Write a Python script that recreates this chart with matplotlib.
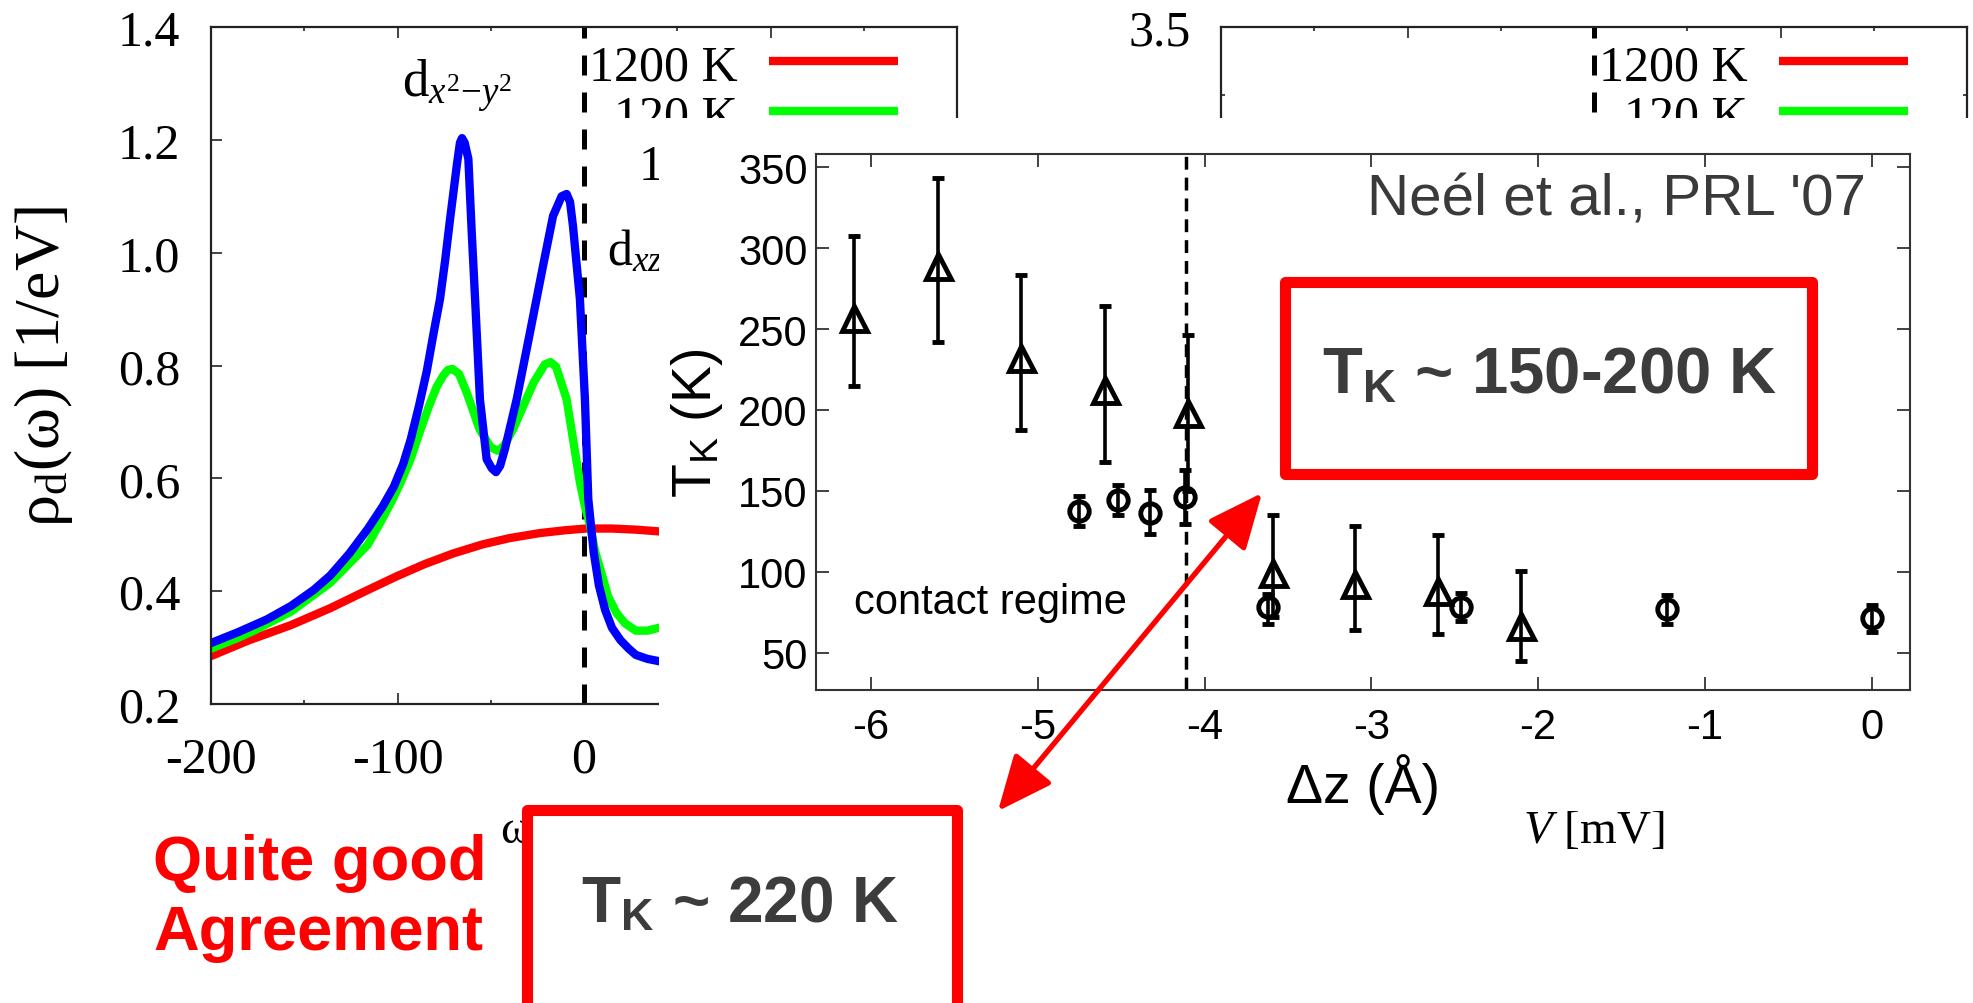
import matplotlib.pyplot as plt
from matplotlib.patches import Rectangle, FancyArrowPatch
from matplotlib.transforms import Affine2D

W, H = 1973, 1004
SERIF = "Liberation Serif"
SANS = "Liberation Sans"

plt.rcParams["axes.unicode_minus"] = False
plt.rcParams["mathtext.fontset"] = "custom"
plt.rcParams["mathtext.rm"] = SERIF
plt.rcParams["mathtext.it"] = SERIF + ":italic"
plt.rcParams["mathtext.sf"] = SANS
plt.rcParams["mathtext.bf"] = SANS + ":bold"

# ---- left panel: d-orbital spectral function ----
omega_blue = [-200, -185, -170, -157, -145, -136, -126, -116, -108, -102, -97,
              -93, -88.5, -84.3, -80.5, -77.2, -74.5, -71.8, -68, -66.5, -65.4,
              -64, -62, -60.2, -58.4, -55.8, -52.2, -49.5, -47.2, -45, -42.4,
              -36.1, -29, -22, -16.6, -12, -9.3, -7.5, -5.9, -2.2, 0.5, 2.3, 5.2,
              8, 11.3, 15, 19.6, 24, 27.8, 34, 40]
rho_blue = [0.308, 0.328, 0.350, 0.374, 0.402, 0.428, 0.466, 0.51, 0.55, 0.585,
            0.625, 0.668, 0.728, 0.79, 0.86, 0.918, 0.985, 1.06, 1.16, 1.195,
            1.203, 1.195, 1.166, 1.036, 0.918, 0.74, 0.634, 0.618, 0.611, 0.622,
            0.652, 0.74, 0.858, 0.976, 1.065, 1.1, 1.104, 1.09, 1.047, 0.918,
            0.74, 0.563, 0.469, 0.41, 0.367, 0.335, 0.313, 0.298, 0.287, 0.28,
            0.276]

omega_green = [-200, -185, -177, -157, -136, -116, -109, -103, -98, -93, -88,
               -83, -79, -75.5, -73, -70.6, -67, -63, -56, -50, -46.3, -43, -38,
               -27, -21, -18, -15, -9.3, -2.2, 0.5, 3.2, 6, 9.1, 13, 17.5, 22,
               27.8, 34, 40]
rho_green = [0.298, 0.318, 0.330, 0.364, 0.415, 0.482, 0.523, 0.56, 0.595, 0.634,
             0.683, 0.729, 0.762, 0.782, 0.792, 0.794, 0.785, 0.753, 0.687,
             0.655, 0.649, 0.657, 0.687, 0.77, 0.802, 0.806, 0.798, 0.74, 0.593,
             0.55, 0.517, 0.47, 0.435, 0.39, 0.361, 0.343, 0.330, 0.330, 0.335]

omega_red = [-200, -179.6, -157, -136, -116, -100, -85.4, -70, -54.3, -40, -23.6,
             -10, 1, 15, 28, 40]
rho_red = [0.285, 0.313, 0.340, 0.370, 0.402, 0.427, 0.448, 0.467, 0.483, 0.494,
           0.503, 0.508, 0.511, 0.511, 0.509, 0.506]

legend_labels = ["1200 K", "120 K", "12 K"]
legend_colors = ["#ff0000", "#00ff00", "#0000ff"]

# ---- Neel et al. PRL '07: T_K vs tip displacement ----
dz_tri = [-6.10, -5.60, -5.10, -4.60, -4.10, -3.59, -3.10, -2.60, -2.10]
tk_tri = [256.6, 288.7, 232.4, 212.5, 198.2, 99.2, 92.5, 87.8, 66.5]
tk_tri_hi = [307.8, 343.4, 283.6, 264.0, 246.3, 135.2, 128.2, 123.0, 100.4]
tk_tri_lo = [214.8, 241.7, 187.6, 168.0, 150.0, 72.0, 64.0, 61.5, 45.0]

dz_circ = [-4.75, -4.52, -4.33, -4.12, -3.62, -2.46, -1.23, 0.0]
tk_circ = [137.5, 144.1, 136.4, 146.4, 78.0, 78.2, 77.1, 71.1]
tk_circ_hi = [147.0, 153.6, 150.3, 162.9, 86.0, 87.0, 85.8, 79.4]
tk_circ_lo = [128.0, 135.3, 123.2, 129.8, 68.0, 69.5, 67.7, 62.7]
contact_edge = -4.11

fig = plt.figure(figsize=(W / 100, H / 100), dpi=100)
px = Affine2D().scale(1 / W, -1 / H).translate(0, 1) + fig.transFigure


def box(x0, y0, x1, y1):
    return [x0 / W, 1 - y1 / H, (x1 - x0) / W, (y1 - y0) / H]


def gnuplot_panel(rect):
    ax = fig.add_axes(box(*rect), zorder=1)
    ax.set_xlim(-200, 200)
    ax.set_xticks([-200, -100, 0, 100, 200])
    ax.set_xticks([-150, -50, 50, 150], minor=True)
    ax.tick_params(which="both", direction="in", top=True, right=True,
                   width=1.2, color="#222222", labelsize=36,
                   labelfontfamily=SERIF)
    ax.tick_params(which="major", length=8)
    ax.tick_params(which="minor", length=3)
    ax.tick_params(axis="y", pad=22)
    ax.tick_params(axis="x", pad=23)
    for sp in ax.spines.values():
        sp.set_linewidth(1.6)
        sp.set_color("#222222")
    ax.axvline(0, color="black", lw=3.6, ls=(0, (4, 3.4)))
    for i, (lab, col) in enumerate(zip(legend_labels, legend_colors)):
        ax.text(0.7064, 0.923 - i * 0.0737, lab, transform=ax.transAxes,
                ha="right", va="baseline", fontsize=36, family=SERIF)
        ax.plot([0.748, 0.921], [0.9498 - i * 0.0739] * 2, color=col, lw=6,
                transform=ax.transAxes, solid_capstyle="butt")
    return ax


# left panel
ax1 = gnuplot_panel((211, 28, 957, 705))
ax1.set_ylim(0.2, 1.4)
ax1.set_yticks([0.2, 0.4, 0.6, 0.8, 1.0, 1.2, 1.4])
ax1.set_yticklabels([f"{v:.1f}" for v in ax1.get_yticks()])
ax1.plot(omega_red, rho_red, color="#ff0000", lw=6, solid_joinstyle="round")
ax1.plot(omega_green, rho_green, color="#00ff00", lw=6, solid_joinstyle="round")
ax1.plot(omega_blue, rho_blue, color="#0000ff", lw=6, solid_joinstyle="round")
ax1.text(-97.6, 1.278, r"d$_{x^{\mathrm{2}}\mathrm{-}y^{\mathrm{2}}}$",
         fontsize=38, family=SERIF, va="baseline")
ax1.text(12.3, 0.98, r"d$_{xz}$", fontsize=36, family=SERIF, va="baseline")
ax1.set_xlabel("ω [meV]", fontsize=34, family=SERIF)
ax1.xaxis.set_label_coords(0.5, -0.187)
ax1.xaxis.label.set_va("center")
ax1.set_ylabel(r"ρ$_\mathrm{d}$(ω) [1/eV]", fontsize=46, family=SERIF)
ax1.yaxis.set_label_coords(-0.225, 0.5)
ax1.yaxis.label.set_va("center")

# right gnuplot panel (only its top strip survives)
ax2 = gnuplot_panel((1221, 28, 1967, 705))
ax2.set_ylim(1.0, 3.5)
ax2.set_yticks([1.0, 1.5, 2.0, 2.5, 3.0, 3.5])
ax2.set_yticks([1.25, 1.75, 2.25, 2.75, 3.25], minor=True)
ax2.set_xlabel(r"$V$ [mV]", fontsize=34, family=SERIF)
ax2.xaxis.set_label_coords(0.5, -0.187)
ax2.xaxis.label.set_va("center")

# pasted image covers the rest
for x0, y0, x1, y1 in [(590, 119, W + 5, 143), (659, 119, W + 5, 812)]:
    fig.add_artist(Rectangle((x0, y0), x1 - x0, y1 - y0, transform=px,
                             facecolor="white", edgecolor="none", zorder=2))

# Neel et al. panel
ax3 = fig.add_axes(box(816, 155, 1910, 691), zorder=3)
ax3.set_facecolor("white")
ax3.set_xlim(-6.33, 0.23)
ax3.set_ylim(26.9, 358.2)
ax3.set_xticks(range(-6, 1))
ax3.set_yticks(range(50, 351, 50))
ax3.tick_params(direction="in", top=True, right=True, length=9.5, width=1.3,
                color="#333333", labelsize=30, labelfontfamily=SANS)
ax3.tick_params(axis="y", pad=6)
ax3.tick_params(axis="x", pad=12)
for sp in ax3.spines.values():
    sp.set_linewidth(1.5)
    sp.set_color("#333333")
ax3.axvline(contact_edge, color="black", lw=2.5, ls=(0, (3.7, 2.3)), zorder=1)
ax3.errorbar(dz_tri, tk_tri,
             yerr=[[t - l for t, l in zip(tk_tri, tk_tri_lo)],
                   [h - t for t, h in zip(tk_tri, tk_tri_hi)]],
             fmt="^", ms=18, mfc="none", mec="black", mew=3.5, ecolor="black",
             elinewidth=2.6, capsize=4.5, capthick=2.6)
ax3.errorbar(dz_circ, tk_circ,
             yerr=[[t - l for t, l in zip(tk_circ, tk_circ_lo)],
                   [h - t for t, h in zip(tk_circ, tk_circ_hi)]],
             fmt="o", ms=14, mfc="none", mec="black", mew=3.5, ecolor="black",
             elinewidth=2.6, capsize=4.5, capthick=2.6)
ax3.text(-6.10, 74.6, "contact regime", fontsize=30, family=SANS, va="baseline")
ax3.text(-0.035, 321, "Neél et al., PRL '07", fontsize=42, family=SANS,
         color="#3a3a3a", ha="right", va="baseline")
ax3.set_xlabel("Δz (Å)", fontsize=40, family=SANS)
ax3.xaxis.set_label_coords(0.5, -0.175)
ax3.xaxis.label.set_va("center")
ax3.set_ylabel(r"T$_\mathsf{K}$ (K)", fontsize=40, family=SANS)
ax3.yaxis.set_label_coords(-0.109, 0.5)
ax3.yaxis.label.set_va("center")

# annotation boxes, arrow and comment
fig.add_artist(Rectangle((1285, 283), 527, 192, transform=px, fill=False,
                         edgecolor="#ff0000", lw=8, joinstyle="round", zorder=5))
fig.add_artist(Rectangle((527, 811), 430, 220, transform=px, facecolor="white",
                         edgecolor="#ff0000", lw=8, joinstyle="round", zorder=5))
fig.text(1550 / W, 1 - 376 / H, r"T$_\mathbf{K}$ ~ 150-200 K", fontsize=47,
         family=SANS, weight="bold", color="#3c3c3c", ha="center", va="center",
         zorder=6)
fig.text(740 / W, 1 - 905 / H, r"T$_\mathbf{K}$ ~ 220 K", fontsize=46,
         family=SANS, weight="bold", color="#3c3c3c", ha="center", va="center",
         zorder=6)
fig.add_artist(FancyArrowPatch((1262, 494), (998, 812), transform=px,
                               arrowstyle="<|-|>,head_length=1.7,head_width=0.75",
                               mutation_scale=20, lw=3.8, color="#ff0000",
                               shrinkA=0, shrinkB=0, zorder=6))
fig.text(153 / W, 1 - 880 / H, "Quite good", fontsize=45.5, family=SANS,
         weight="bold", color="#ff0000", va="baseline", zorder=6)
fig.text(153 / W, 1 - 950 / H, "Agreement", fontsize=45.5, family=SANS,
         weight="bold", color="#ff0000", va="baseline", zorder=6)

fig.savefig("out.png", dpi=100)
